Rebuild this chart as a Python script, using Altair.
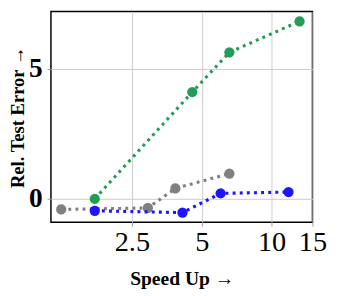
import altair as alt
import pandas as pd

series_names = ["gray", "blue", "green"]
gray_x = [1.24, 2.93, 3.85, 6.58]
gray_y = [-0.41, -0.35, 0.40, 0.97]
blue_x = [1.73, 4.13, 6.03, 11.83]
blue_y = [-0.46, -0.53, 0.21, 0.26]
green_x = [1.73, 4.55, 6.58, 13.2]
green_y = [0.0, 4.10, 5.63, 6.82]
colors = ["#808080", "#1f14ff", "#239c56"]
x_ticks = [2.5, 5, 10, 15]
y_ticks = [0, 5]

rows = []
for i, (name, xs, ys) in enumerate(zip(series_names, [gray_x, blue_x, green_x], [gray_y, blue_y, green_y])):
    for x, y in zip(xs, ys):
        rows.append({"series": name, "order": i, "x": x, "y": y})
df = pd.DataFrame(rows)

font = "Liberation Serif"
xenc = alt.X("x:Q", scale=alt.Scale(type="log", domain=[1.12, 15], nice=False),
             axis=alt.Axis(values=x_ticks, format="~g", title="Speed Up →",
                           labelFont=font, labelFontSize=29, labelFontWeight="normal",
                           labelColor="black", labelPadding=2, tickSize=4, tickColor="#999999",
                           titleFont=font, titleFontSize=20, titleFontWeight="bold",
                           titleColor="black", titlePadding=13, domain=False,
                           gridColor="#cccccc", labelFlush=False))
yenc = alt.Y("y:Q", scale=alt.Scale(domain=[-0.9, 7.2], nice=False, zero=False),
             axis=alt.Axis(values=y_ticks, title="Rel. Test Error →",
                           labelFont=font, labelFontSize=28, labelFontWeight="bold",
                           labelColor="black", labelPadding=5, tickSize=4, tickColor="#999999",
                           titleFont=font, titleFontSize=19, titleFontWeight="bold",
                           titleColor="black", titlePadding=1, domain=False,
                           gridColor="#cccccc"))
cenc = alt.Color("series:N", scale=alt.Scale(domain=series_names, range=colors), legend=None)

base = alt.Chart(df)
layers = []
for name in series_names:
    sub = base.transform_filter(alt.datum.series == name)
    layers.append(sub.mark_line(strokeDash=[3, 4.3], strokeWidth=3.2, strokeCap="butt").encode(
        x=xenc, y=yenc, color=cenc))
    layers.append(sub.mark_circle(size=110, opacity=1).encode(x=xenc, y=yenc, color=cenc))

chart = alt.layer(*layers).properties(
    width=268, height=216,
    autosize=alt.AutoSizeParams(type="none"),
    padding={"left": 44, "top": 0, "right": 19, "bottom": 70},
).configure_view(stroke="black", strokeWidth=1.5).configure_axis(grid=True)

chart.save("out.html", embed_options={"renderer": "svg", "actions": False})
